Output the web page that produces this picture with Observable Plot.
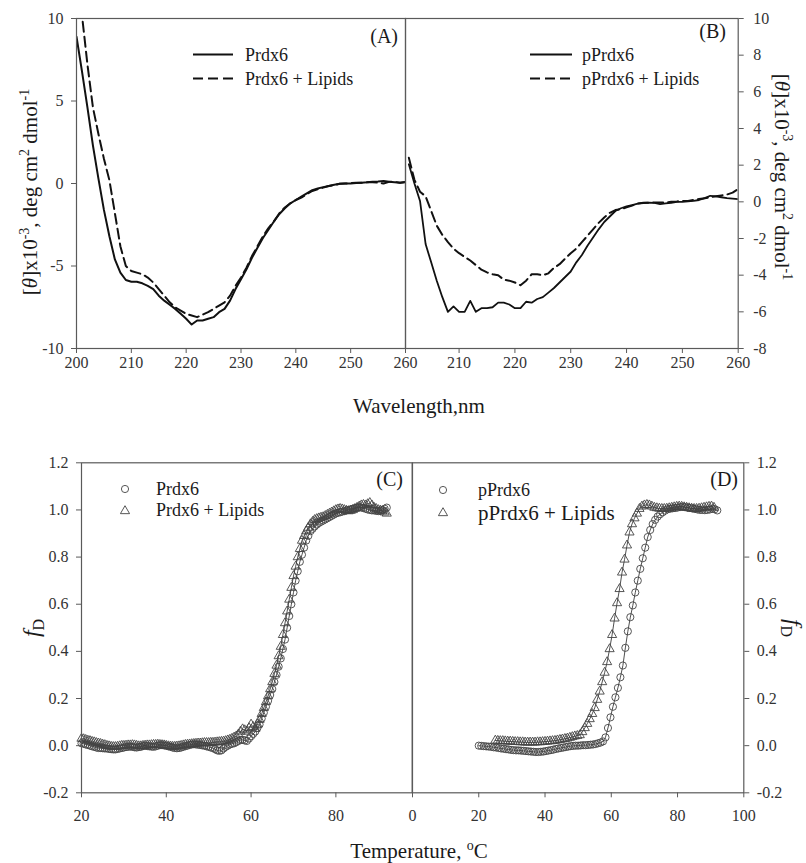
<!DOCTYPE html>
<html><head><meta charset="utf-8">
<script src="https://cdn.jsdelivr.net/npm/d3@7"></script>
<script src="https://cdn.jsdelivr.net/npm/@observablehq/plot@0.6"></script>
<style>
body{margin:0;background:#fff;}
#wrap{position:relative;width:806px;height:863px;font-family:"Liberation Serif",serif;overflow:hidden;}
#wrap svg{position:absolute;overflow:visible;}
#wrap svg text{font-family:"Liberation Serif",serif;}
</style></head><body><div id="wrap"></div>
<script>
// ---------- Panel A: Prdx6 CD spectra ----------
const wavelengthA = d3.range(200, 261, 1);
const prdx6 = [8.9, 6.8, 4.6, 2.3, 0.3, -1.6, -3.2, -4.6, -5.4, -5.85,
  -5.95, -5.95, -6.05, -6.2, -6.4, -6.8, -7.1, -7.35, -7.6, -7.9,
  -8.2, -8.55, -8.3, -8.3, -8.2, -8.1, -7.8, -7.6, -7.1, -6.4,
  -5.8, -5.2, -4.5, -3.9, -3.3, -2.8, -2.3, -1.85, -1.5, -1.2,
  -1.0, -0.8, -0.6, -0.4, -0.3, -0.22, -0.15, -0.08, -0.02, 0.0,
  0.0, 0.03, 0.05, 0.07, 0.1, 0.12, 0.15, 0.1, 0.08, 0.05,
  0.08];
const prdx6Lipids = [12.5, 10.2, 7.2, 4.6, 3.0, 1.5, 0.2, -1.8, -3.8, -5.0,
  -5.3, -5.4, -5.5, -5.7, -6.0, -6.4, -6.8, -7.2, -7.5, -7.7,
  -7.9, -8.0, -8.1, -7.95, -7.8, -7.6, -7.4, -7.2, -6.8, -6.2,
  -5.7, -5.1, -4.4, -3.8, -3.2, -2.7, -2.3, -1.8, -1.45, -1.2,
  -1.0, -0.85, -0.65, -0.45, -0.35, -0.25, -0.15, -0.1, -0.02, 0.0,
  0.02, 0.04, 0.05, 0.07, 0.08, 0.05, 0.0, 0.1, 0.1, 0.05,
  0.1];
const ticksA_x = [200, 210, 220, 230, 240, 250, 260];
const ticksA_y = [-10, -5, 0, 5, 10];

// ---------- Panel B: pPrdx6 CD spectra ----------
const wavelengthB = d3.range(201, 261, 1);
const pprdx6 = [2.05, 1.0, 0.05, -2.3, -3.3, -4.3, -5.2, -6.0, -5.7, -6.0,
  -6.0, -5.4, -6.0, -5.8, -5.8, -5.75, -5.5, -5.5, -5.6, -5.8,
  -5.8, -5.45, -5.5, -5.3, -5.2, -4.95, -4.7, -4.4, -4.1, -3.8,
  -3.3, -2.9, -2.4, -1.95, -1.5, -1.1, -0.8, -0.5, -0.35, -0.25,
  -0.18, -0.1, -0.05, -0.04, -0.06, -0.13, -0.08, -0.05, 0.0, 0.0,
  0.03, 0.05, 0.1, 0.2, 0.33, 0.3, 0.25, 0.2, 0.18, 0.15];
const pprdx6Lipids = [2.4, 1.2, 0.55, 0.3, -0.5, -1.3, -1.8, -2.2, -2.55, -2.8,
  -3.0, -3.2, -3.45, -3.7, -3.85, -3.95, -4.0, -4.25, -4.3, -4.4,
  -4.55, -4.3, -3.95, -3.95, -4.0, -3.9, -3.6, -3.4, -3.1, -2.8,
  -2.55, -2.2, -1.85, -1.5, -1.15, -0.85, -0.6, -0.45, -0.4, -0.3,
  -0.2, -0.1, -0.07, -0.04, -0.04, -0.04, -0.04, 0.0, 0.02, 0.05,
  0.05, 0.1, 0.15, 0.2, 0.25, 0.3, 0.35, 0.4, 0.5, 0.7];
const ticksB_x = [210, 220, 230, 240, 250, 260];
const ticksB_y = [-8, -6, -4, -2, 0, 2, 4, 6, 8, 10];

// ---------- Panel C: Prdx6 thermal unfolding ----------
const tempC = d3.range(20, 92.01, 0.5);
const fdPrdx6 = [0.010, 0.008, 0.005, 0.003, 0.000, -0.003, -0.005, -0.008, -0.010, -0.010,
  -0.011, -0.012, -0.012, -0.014, -0.015, -0.016, -0.016, -0.014, -0.012, -0.010,
  -0.008, -0.006, -0.005, -0.004, -0.005, -0.007, -0.008, -0.006, -0.005, -0.002,
  0.000, -0.002, -0.003, -0.004, -0.005, -0.003, 0.000, 0.002, 0.002, 0.001,
  0.000, -0.003, -0.005, -0.008, -0.010, -0.011, -0.010, -0.008, -0.005, -0.002,
  0.000, 0.003, 0.005, 0.006, 0.005, 0.004, 0.003, 0.001, 0.000, -0.003,
  -0.005, -0.008, -0.010, -0.015, -0.020, -0.022, -0.020, -0.012, -0.005, 0.000,
  0.005, 0.008, 0.010, 0.015, 0.020, 0.024, 0.025, 0.022, 0.020, 0.030,
  0.040, 0.050, 0.060, 0.075, 0.090, 0.115, 0.140, 0.165, 0.190, 0.215,
  0.240, 0.270, 0.300, 0.335, 0.370, 0.410, 0.450, 0.500, 0.550, 0.600,
  0.650, 0.700, 0.740, 0.780, 0.810, 0.840, 0.870, 0.890, 0.910, 0.920,
  0.930, 0.938, 0.945, 0.950, 0.955, 0.960, 0.965, 0.970, 0.975, 0.980,
  0.985, 0.988, 0.990, 0.993, 0.995, 0.998, 1.000, 1.003, 1.005, 1.008,
  1.010, 1.012, 1.010, 1.008, 1.005, 1.002, 1.000, 0.998, 0.998, 0.996,
  0.995, 0.996, 1.000, 1.005, 1.010];
const fdPrdx6Lipids = [0.030, 0.028, 0.025, 0.022, 0.020, 0.017, 0.015, 0.012, 0.010, 0.008,
  0.005, 0.003, 0.000, -0.002, -0.004, -0.005, -0.005, -0.004, -0.002, 0.000,
  0.000, 0.001, 0.002, 0.002, 0.003, 0.002, 0.000, -0.002, -0.002, 0.000,
  0.001, 0.002, 0.002, 0.003, 0.004, 0.004, 0.005, 0.004, 0.003, 0.002,
  0.000, -0.002, -0.003, -0.004, -0.004, -0.003, -0.002, 0.000, 0.002, 0.004,
  0.005, 0.006, 0.007, 0.008, 0.009, 0.010, 0.010, 0.011, 0.012, 0.012,
  0.012, 0.013, 0.013, 0.014, 0.015, 0.016, 0.017, 0.018, 0.020, 0.023,
  0.026, 0.030, 0.035, 0.040, 0.048, 0.060, 0.070, 0.066, 0.060, 0.075,
  0.090, 0.080, 0.072, 0.090, 0.110, 0.135, 0.160, 0.185, 0.210, 0.240,
  0.270, 0.305, 0.340, 0.380, 0.420, 0.470, 0.520, 0.570, 0.620, 0.670,
  0.720, 0.760, 0.800, 0.835, 0.870, 0.890, 0.910, 0.925, 0.940, 0.950,
  0.958, 0.962, 0.965, 0.968, 0.970, 0.975, 0.980, 0.985, 0.990, 0.995,
  1.000, 1.003, 1.005, 1.003, 1.000, 0.997, 0.995, 0.997, 1.000, 1.005,
  1.010, 1.015, 1.020, 1.022, 1.020, 1.025, 1.030, 1.020, 1.010, 1.005,
  1.000, 0.998, 0.995, 0.990, 0.985];
const ticksC_x = [20, 40, 60, 80];
const ticksF = [-0.2, 0, 0.2, 0.4, 0.6, 0.8, 1.0, 1.2];

// ---------- Panel D: pPrdx6 thermal unfolding ----------
const tempD = d3.range(20, 92.01, 0.75);
const fdPPrdx6 = [0.000, -0.001, -0.002, -0.003, -0.004, -0.005, -0.007, -0.008,
  -0.010, -0.012, -0.013, -0.015, -0.016, -0.018, -0.019, -0.020,
  -0.020, -0.021, -0.022, -0.023, -0.024, -0.025, -0.026, -0.027,
  -0.027, -0.026, -0.025, -0.023, -0.021, -0.019, -0.017, -0.014,
  -0.012, -0.010, -0.008, -0.006, -0.004, -0.002, -0.001, 0.000,
  0.000, 0.001, 0.002, 0.002, 0.003, 0.004, 0.005, 0.007,
  0.010, 0.013, 0.018, 0.035, 0.075, 0.120, 0.165, 0.205,
  0.245, 0.290, 0.340, 0.415, 0.485, 0.545, 0.595, 0.650,
  0.700, 0.750, 0.795, 0.840, 0.885, 0.915, 0.940, 0.958,
  0.972, 0.982, 0.990, 0.997, 1.003, 1.005, 1.007, 1.008,
  1.010, 1.012, 1.013, 1.012, 1.010, 1.008, 1.006, 1.004,
  1.002, 1.000, 1.000, 0.999, 1.000, 1.002, 1.005, 1.003,
  0.998];
const tempDLipids = d3.range(25, 91.01, 0.75);
const fdPPrdx6Lipids = [0.022, 0.021, 0.020, 0.020, 0.019, 0.018, 0.018, 0.017,
  0.016, 0.016, 0.015, 0.015, 0.014, 0.014, 0.014, 0.014,
  0.014, 0.015, 0.015, 0.016, 0.017, 0.018, 0.019, 0.020,
  0.021, 0.023, 0.025, 0.027, 0.029, 0.031, 0.034, 0.037,
  0.040, 0.042, 0.045, 0.058, 0.075, 0.093, 0.113, 0.135,
  0.160, 0.195, 0.230, 0.270, 0.310, 0.355, 0.410, 0.470,
  0.540, 0.605, 0.665, 0.735, 0.790, 0.850, 0.905, 0.940,
  0.965, 0.985, 1.005, 1.015, 1.020, 1.022, 1.020, 1.015,
  1.010, 1.008, 1.006, 1.005, 1.005, 1.006, 1.008, 1.010,
  1.012, 1.014, 1.015, 1.014, 1.012, 1.010, 1.008, 1.006,
  1.005, 1.005, 1.006, 1.008, 1.010, 1.012, 1.014, 1.015,
  1.010];
const ticksD_x = [0, 20, 40, 60, 80, 100];

// ---------- build ----------
const wrap = document.getElementById("wrap");
const zip = (xs, ys) => xs.map((x, i) => ({x, y: ys[i]}));
const baseStyle = {fontFamily: "Liberation Serif, serif", fontSize: "16px", color: "#333", background: "transparent", overflow: "visible"};
const fmtInt = d => String(d);
const fmt1 = d => d.toFixed(1);
const FR = "#5a5a5a";

function place(svg, left, top) {
  svg.style.left = left + "px";
  svg.style.top = top + "px";
  wrap.appendChild(svg);
}

// Panel A
place(Plot.plot({
  width: 406, height: 380, marginLeft: 76, marginRight: 1, marginTop: 18, marginBottom: 32,
  style: baseStyle,
  x: {domain: [200, 260]}, y: {domain: [-10, 10]},
  marks: [
    Plot.line(zip(wavelengthA, prdx6), {x: "x", y: "y", stroke: "#111", strokeWidth: 2, clip: true}),
    Plot.line(zip(wavelengthA, prdx6Lipids), {x: "x", y: "y", stroke: "#111", strokeWidth: 2, strokeDasharray: "10,5", clip: true}),
    Plot.frame({stroke: FR, strokeWidth: 1.2}),
    Plot.axisX({ticks: ticksA_x, tickSize: 5, tickPadding: 3, tickFormat: fmtInt, label: null, stroke: FR}),
    Plot.axisY({ticks: ticksA_y, tickSize: 5, tickPadding: 8, tickFormat: fmtInt, label: null, stroke: FR})
  ]
}), 0, 0);

// Panel B
place(Plot.plot({
  width: 406, height: 380, marginLeft: 5, marginRight: 68.3, marginTop: 18, marginBottom: 32,
  style: baseStyle,
  x: {domain: [200.4, 260]}, y: {domain: [-8, 10]},
  marks: [
    Plot.line(zip(wavelengthB, pprdx6), {x: "x", y: "y", stroke: "#111", strokeWidth: 1.8, clip: true}),
    Plot.line(zip(wavelengthB, pprdx6Lipids), {x: "x", y: "y", stroke: "#111", strokeWidth: 2, strokeDasharray: "10,5", clip: true}),
    Plot.frame({stroke: FR, strokeWidth: 1.2}),
    Plot.axisX({ticks: ticksB_x, tickSize: 5, tickPadding: 3, tickFormat: fmtInt, label: null, stroke: FR}),
    Plot.axisY({anchor: "right", ticks: ticksB_y, tickSize: 5, tickPadding: 10, tickFormat: fmtInt, label: null, stroke: FR})
  ]
}), 400, 0);

// Panel C
const dotStyle = {stroke: "#444", fill: "none", strokeWidth: 0.9};
place(Plot.plot({
  width: 412, height: 423, marginLeft: 81, marginRight: 0.3, marginTop: 22.3, marginBottom: 70.7,
  style: baseStyle,
  x: {domain: [20, 98]}, y: {domain: [-0.2, 1.2]},
  marks: [
    Plot.line(zip(tempC, fdPrdx6), {x: "x", y: "y", stroke: "#222", strokeWidth: 0.8}),
    Plot.line(zip(tempC, fdPrdx6Lipids), {x: "x", y: "y", stroke: "#222", strokeWidth: 0.8}),
    Plot.dot(zip(tempC, fdPrdx6), {x: "x", y: "y", r: 3.6, symbol: "circle", ...dotStyle}),
    Plot.dot(zip(tempC, fdPrdx6Lipids), {x: "x", y: "y", r: 3.4, symbol: "triangle", ...dotStyle}),
    Plot.frame({stroke: FR, strokeWidth: 1.2}),
    Plot.axisX({ticks: ticksC_x, tickSize: 5, tickPadding: 12, tickFormat: fmtInt, label: null, stroke: FR}),
    Plot.axisY({ticks: ticksF, tickSize: 5, tickPadding: 8, tickFormat: fmt1, label: null, stroke: FR})
  ]
}), 0, 440);

// Panel D
place(Plot.plot({
  width: 406, height: 423, marginLeft: 12, marginRight: 62.7, marginTop: 22.3, marginBottom: 70.7,
  style: baseStyle,
  x: {domain: [0, 100]}, y: {domain: [-0.2, 1.2]},
  marks: [
    Plot.line(zip(tempD, fdPPrdx6), {x: "x", y: "y", stroke: "#222", strokeWidth: 0.8}),
    Plot.line(zip(tempDLipids, fdPPrdx6Lipids), {x: "x", y: "y", stroke: "#222", strokeWidth: 0.8}),
    Plot.dot(zip(tempD, fdPPrdx6), {x: "x", y: "y", r: 3.6, symbol: "circle", ...dotStyle}),
    Plot.dot(zip(tempDLipids, fdPPrdx6Lipids), {x: "x", y: "y", r: 3.4, symbol: "triangle", ...dotStyle}),
    Plot.frame({stroke: FR, strokeWidth: 1.2}),
    Plot.axisX({ticks: ticksD_x, tickSize: 5, tickPadding: 12, tickFormat: fmtInt, label: null, stroke: FR}),
    Plot.axisY({anchor: "right", ticks: ticksF, tickSize: 5, tickPadding: 8, tickFormat: fmt1, label: null, stroke: FR})
  ]
}), 400, 440);

// ---------- overlay: titles, legends, panel letters ----------
const tri = d3.symbol().type(d3.symbolTriangle).size(Math.PI * 3.4 * 3.4)();
const sup = (s) => `<tspan dy="-8" font-size="14">${s}</tspan>`;
const overlay = `
<svg width="806" height="863" style="left:0;top:0" font-family="Liberation Serif" fill="#1a1a1a">
  <text x="419" y="413" font-size="21" text-anchor="middle">Wavelength,nm</text>
  <text x="419" y="858" font-size="21" text-anchor="middle">Temperature, <tspan dy="-8" font-size="14">o</tspan><tspan dy="8">C</tspan></text>

  <text transform="translate(37,192) rotate(-90)" font-size="21" text-anchor="middle">[<tspan font-style="italic">θ</tspan>]x10${sup("-3")}<tspan dy="8">, deg cm</tspan>${sup("2")}<tspan dy="8"> dmol</tspan>${sup("-1")}</text>
  <text transform="translate(775,177) rotate(90)" font-size="21" text-anchor="middle">[<tspan font-style="italic">θ</tspan>]x10${sup("-3")}<tspan dy="8">, deg cm</tspan>${sup("2")}<tspan dy="8"> dmol</tspan>${sup("-1")}</text>

  <text transform="translate(39,628) rotate(-90)" font-size="24" text-anchor="middle"><tspan font-style="italic">f</tspan><tspan dy="5" font-size="16">D</tspan></text>
  <text transform="translate(786,628) rotate(90)" font-size="24" text-anchor="middle"><tspan font-style="italic">f</tspan><tspan dy="5" font-size="16">D</tspan></text>

  <text x="398" y="43" font-size="20" text-anchor="end">(A)</text>
  <text x="726" y="38" font-size="20" text-anchor="end">(B)</text>
  <text x="403" y="486" font-size="20" text-anchor="end">(C)</text>
  <text x="738" y="486" font-size="20" text-anchor="end">(D)</text>

  <line x1="193" x2="233" y1="54.5" y2="54.5" stroke="#111" stroke-width="2"/>
  <line x1="193" x2="233" y1="78.5" y2="78.5" stroke="#111" stroke-width="2" stroke-dasharray="10,5"/>
  <text x="245" y="61" font-size="18">Prdx6</text>
  <text x="245" y="85" font-size="18">Prdx6 + Lipids</text>

  <line x1="530" x2="572" y1="54.5" y2="54.5" stroke="#111" stroke-width="1.8"/>
  <line x1="530" x2="572" y1="78.5" y2="78.5" stroke="#111" stroke-width="2" stroke-dasharray="10,5"/>
  <text x="582" y="61" font-size="18">pPrdx6</text>
  <text x="582" y="85" font-size="18">pPrdx6 + Lipids</text>

  <circle cx="125" cy="489" r="3.6" fill="none" stroke="#444" stroke-width="0.9"/>
  <path d="${tri}" transform="translate(125,511)" fill="none" stroke="#444" stroke-width="0.9"/>
  <text x="156" y="495" font-size="18">Prdx6</text>
  <text x="156" y="516" font-size="18">Prdx6 + Lipids</text>

  <circle cx="443" cy="490" r="3.6" fill="none" stroke="#444" stroke-width="0.9"/>
  <path d="${tri}" transform="translate(443,513)" fill="none" stroke="#444" stroke-width="0.9"/>
  <text x="478" y="496" font-size="18">pPrdx6</text>
  <text x="478" y="520" font-size="21">pPrdx6 + Lipids</text>
</svg>`;
wrap.insertAdjacentHTML("beforeend", overlay);
</script>
</body></html>
